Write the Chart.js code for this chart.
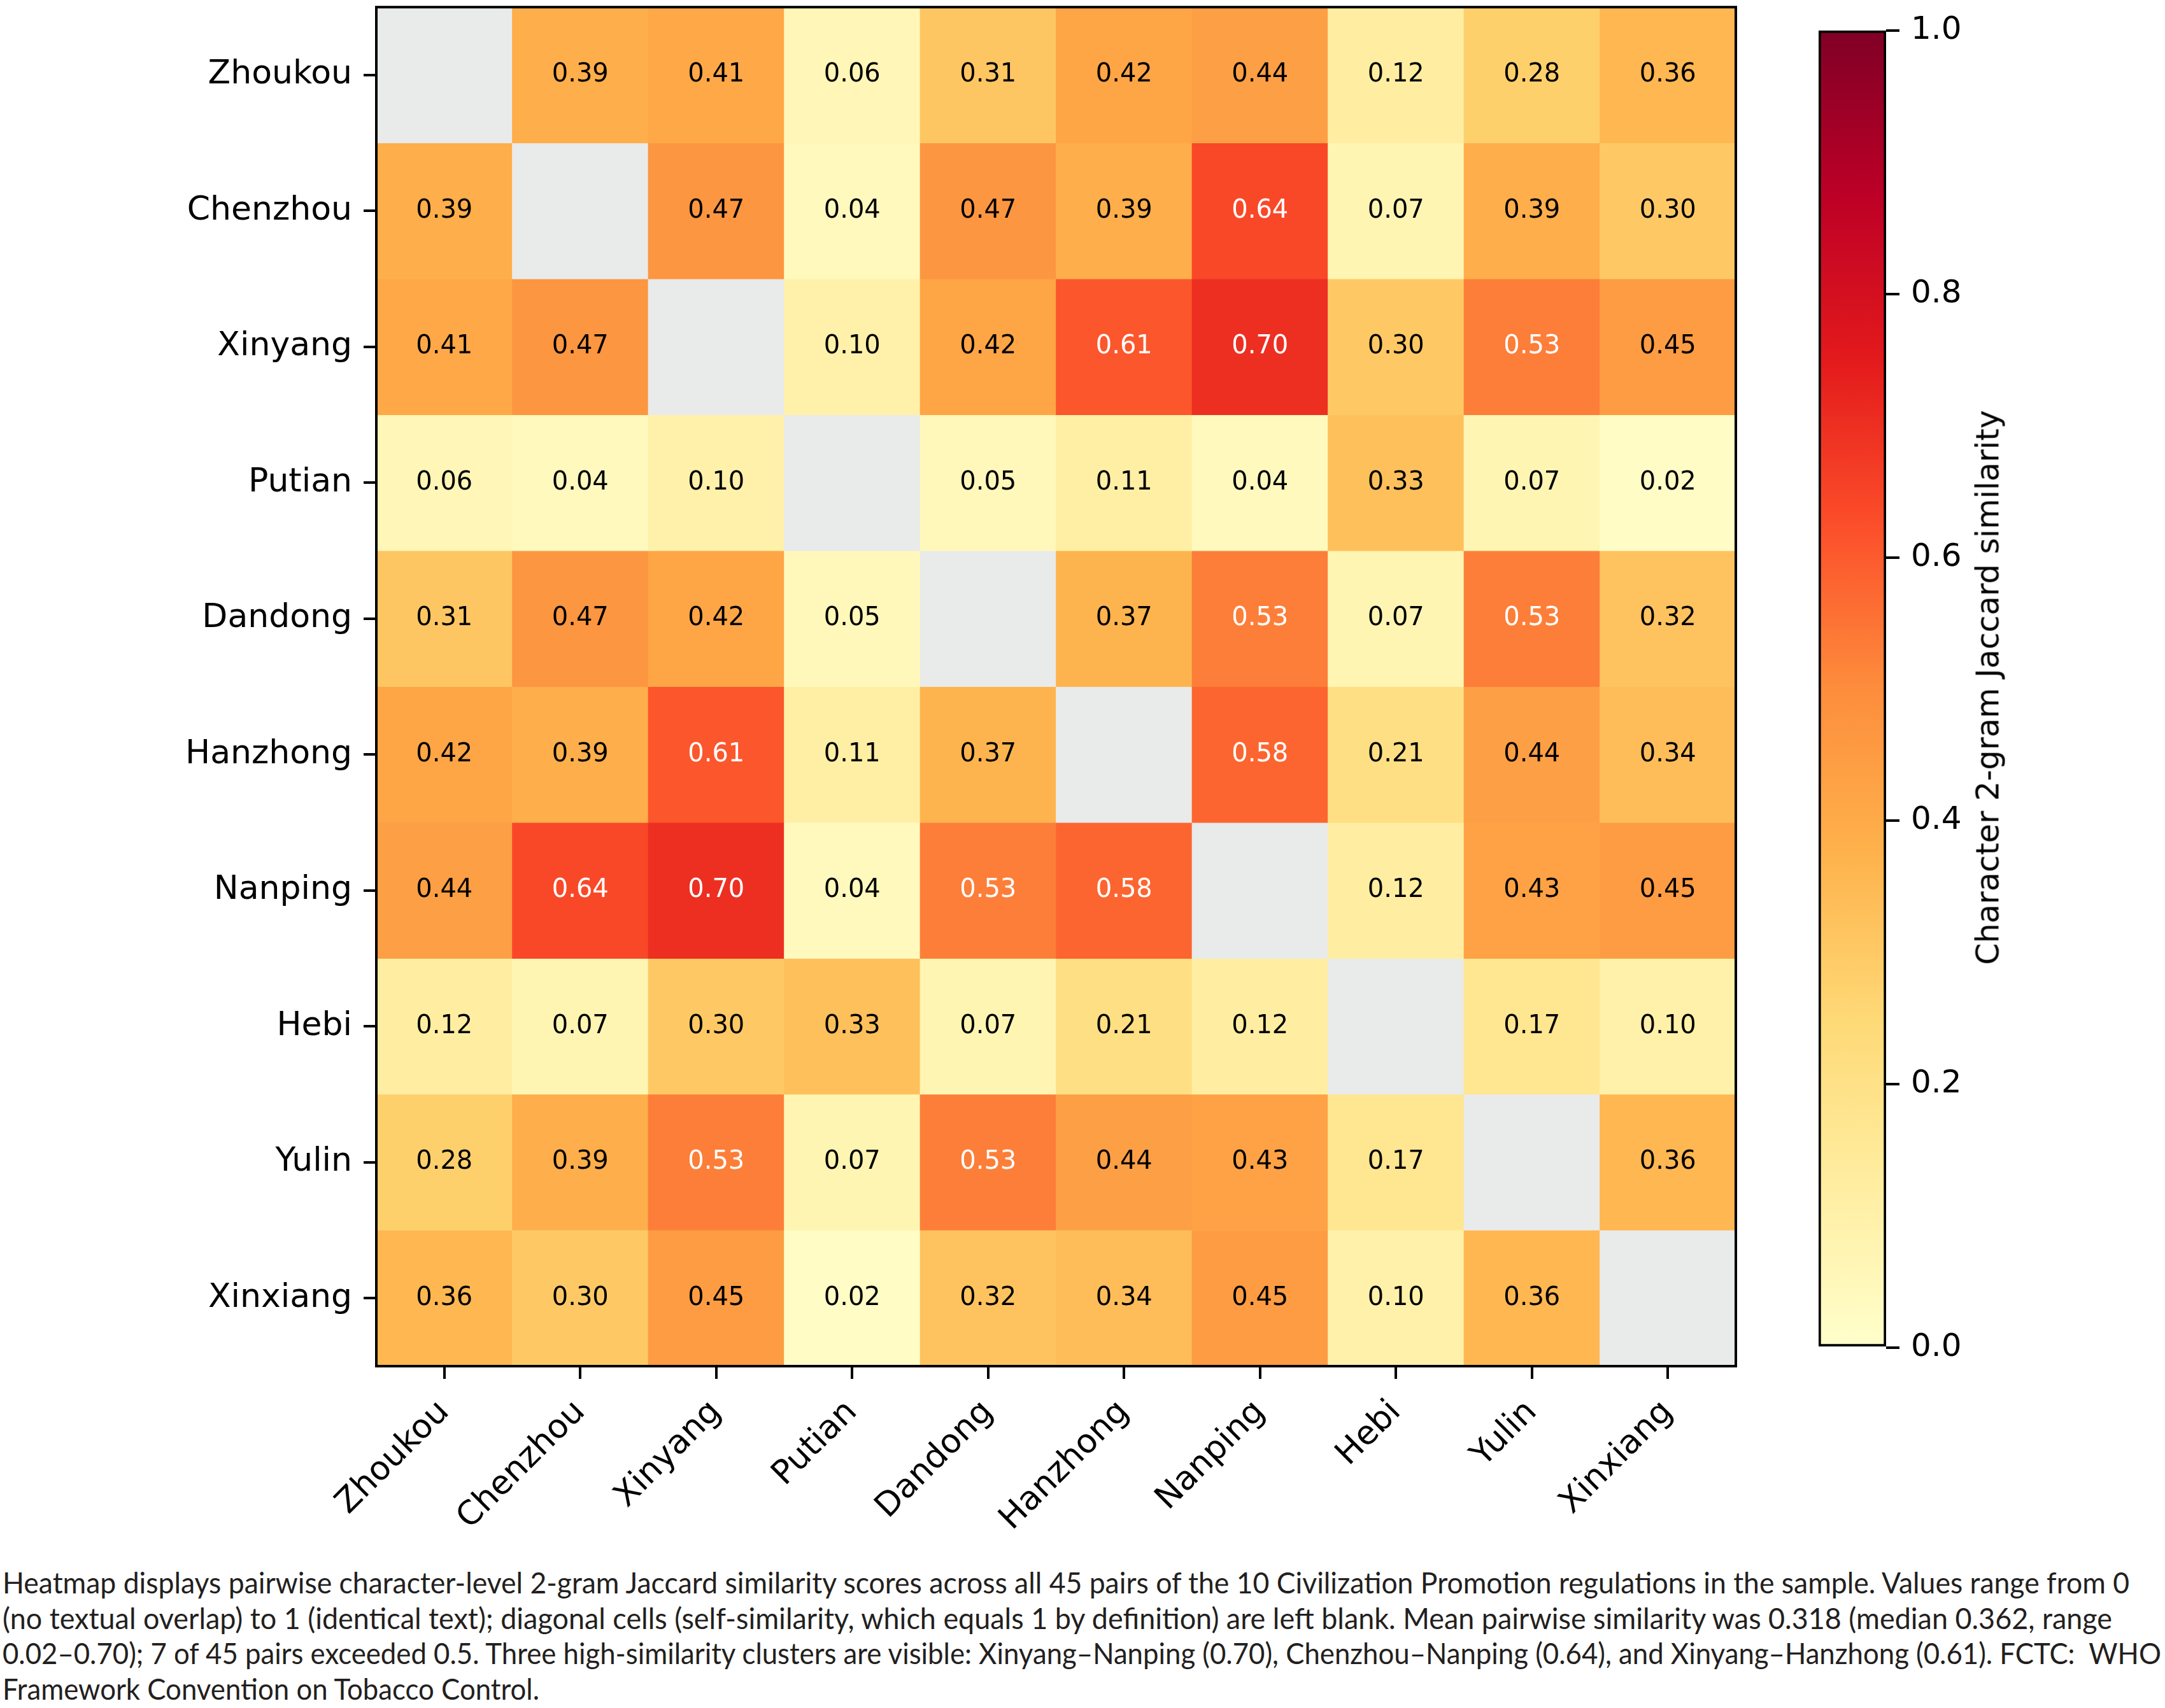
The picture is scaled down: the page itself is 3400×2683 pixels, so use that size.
<!DOCTYPE html>
<html>
<head>
<meta charset="utf-8">
<title>Pairwise 2-gram Jaccard similarity</title>
<script src="https://cdn.jsdelivr.net/npm/chart.js@4.4.1/dist/chart.umd.min.js"></script>
<style>
    html, body { margin: 0; padding: 0; background: #fff; width: 3400px; height: 2683px; overflow: hidden; }
    #heatBox { position: absolute; left: 0; top: -38px; width: 2740px; height: 2478px; }
    #cbarBox { position: absolute; left: 2700px; top: 0; width: 400px; height: 2200px; }
    #cbLabel {
        position: absolute; left: 3122px; top: 1080px;
        transform: translate(-50%, -50%) rotate(-90deg);
        font-family: "DejaVu Sans", sans-serif; font-size: 49px; color: #000; white-space: nowrap;
    }
    #caption {
        position: absolute; left: 4px; top: 2458px;
        font-family: Lato, "Noto Sans", sans-serif; font-size: 47px; line-height: 55.5px;
        color: #231f20;
    }
    #caption span { display: inline-block; white-space: nowrap; transform-origin: 0 50%; }
</style>
</head>
<body>
<div id="heatBox"><canvas id="heatmap"></canvas></div>
<div id="cbarBox"><canvas id="colorbar"></canvas></div>
<div id="cbLabel">Character 2-gram Jaccard similarity</div>
<div id="caption">
    <div><span data-w="3340">Heatmap displays pairwise character-level 2-gram Jaccard similarity scores across all 45 pairs of the 10 Civilization Promotion regulations in the sample. Values range from 0</span></div>
    <div><span data-w="3313">(no textual overlap) to 1 (identical text); diagonal cells (self-similarity, which equals 1 by definition) are left blank. Mean pairwise similarity was 0.318 (median 0.362, range</span></div>
    <div><span data-w="3390">0.02–0.70); 7 of 45 pairs exceeded 0.5. Three high-similarity clusters are visible: Xinyang–Nanping (0.70), Chenzhou–Nanping (0.64), and Xinyang–Hanzhong (0.61). FCTC:&nbsp; WHO</span></div>
    <div><span data-w="843">Framework Convention on Tobacco Control.</span></div>
</div>
<script>
// cidades (linhas e colunas da matriz)
const cities = ["Zhoukou", "Chenzhou", "Xinyang", "Putian", "Dandong", "Hanzhong", "Nanping", "Hebi", "Yulin", "Xinxiang"];

// uma linha por cidade, diagonal em branco (null)
const zhoukou  = [null, 0.39, 0.41, 0.06, 0.31, 0.42, 0.44, 0.12, 0.28, 0.36];
const chenzhou = [0.39, null, 0.47, 0.04, 0.47, 0.39, 0.64, 0.07, 0.39, 0.30];
const xinyang  = [0.41, 0.47, null, 0.10, 0.42, 0.61, 0.70, 0.30, 0.53, 0.45];
const putian   = [0.06, 0.04, 0.10, null, 0.05, 0.11, 0.04, 0.33, 0.07, 0.02];
const dandong  = [0.31, 0.47, 0.42, 0.05, null, 0.37, 0.53, 0.07, 0.53, 0.32];
const hanzhong = [0.42, 0.39, 0.61, 0.11, 0.37, null, 0.58, 0.21, 0.44, 0.34];
const nanping  = [0.44, 0.64, 0.70, 0.04, 0.53, 0.58, null, 0.12, 0.43, 0.45];
const hebi     = [0.12, 0.07, 0.30, 0.33, 0.07, 0.21, 0.12, null, 0.17, 0.10];
const yulin    = [0.28, 0.39, 0.53, 0.07, 0.53, 0.44, 0.43, 0.17, null, 0.36];
const xinxiang = [0.36, 0.30, 0.45, 0.02, 0.32, 0.34, 0.45, 0.10, 0.36, null];

const similarity = [zhoukou, chenzhou, xinyang, putian, dandong, hanzhong, nanping, hebi, yulin, xinxiang];

// escala de cor e ticks da barra
const colorRange = [0, 1];
const colorTicks = [0, 0.2, 0.4, 0.6, 0.8, 1.0];

// YlOrRd (matplotlib)
const ylOrRd = ["#ffffcc", "#ffeda0", "#fed976", "#feb24c", "#fd8d3c", "#fc4e2a", "#e31a1c", "#bd0026", "#800026"];
const blankColor = "#e9eaea";

function hexToRgb(h) {
    return [parseInt(h.slice(1, 3), 16), parseInt(h.slice(3, 5), 16), parseInt(h.slice(5, 7), 16)];
}

function cmap(v) {
    if (v === null || v === undefined) return blankColor;
    const t = Math.min(Math.max((v - colorRange[0]) / (colorRange[1] - colorRange[0]), 0), 1) * (ylOrRd.length - 1);
    const i = Math.min(Math.floor(t), ylOrRd.length - 2);
    const f = t - i;
    const a = hexToRgb(ylOrRd[i]), b = hexToRgb(ylOrRd[i + 1]);
    const c = a.map((x, k) => Math.round(x + (b[k] - x) * f));
    return `rgb(${c[0]},${c[1]},${c[2]})`;
}

Chart.defaults.font.family = "'DejaVu Sans', sans-serif";
Chart.defaults.color = "#000";

// texto dos valores dentro de cada célula
const cellLabels = {
    id: "cellLabels",
    afterDatasetsDraw(chart) {
        const ctx = chart.ctx;
        ctx.save();
        ctx.font = "40px 'DejaVu Sans'";
        ctx.textAlign = "center";
        ctx.textBaseline = "middle";
        similarity.forEach((row, r) => {
            chart.getDatasetMeta(r).data.forEach((bar, j) => {
                const v = row[j];
                if (v === null) return;
                const p = bar.getCenterPoint();
                ctx.fillStyle = v > 0.5 ? "#fff" : "#000";
                ctx.fillText(v.toFixed(2), p.x, p.y);
            });
        });
        ctx.restore();
    }
};

// moldura à volta da área do gráfico
const frame = {
    id: "frame",
    afterDraw(chart) {
        const a = chart.chartArea;
        const ctx = chart.ctx;
        ctx.save();
        ctx.strokeStyle = "#000";
        ctx.lineWidth = 4;
        ctx.strokeRect(a.left, a.top, a.right - a.left, a.bottom - a.top);
        ctx.restore();
    }
};

const datasets = similarity.map((row, r) => ({
    label: cities[r],
    data: cities.map(() => [r - 0.5, r + 0.5]),
    backgroundColor: row.map(cmap),
    borderWidth: 0,
    grouped: false,
    barPercentage: 1,
    categoryPercentage: 1
}));

try {
    new Chart(document.getElementById("heatmap").getContext("2d"), {
        type: "bar",
        data: { labels: cities, datasets },
        options: {
            responsive: true,
            maintainAspectRatio: false,
            devicePixelRatio: 1,
            animation: false,
            layout: { padding: { top: 10, right: 14, left: 0, bottom: 0 } },
            plugins: { legend: { display: false }, tooltip: { enabled: false } },
            scales: {
                x: {
                    type: "category",
                    grid: { drawOnChartArea: false, offset: false, tickLength: 20, color: "#000", lineWidth: 4 },
                    border: { display: false },
                    ticks: {
                        autoSkip: false, maxRotation: 45, minRotation: 45, padding: 22,
                        font: { size: 52 }, color: "#000"
                    },
                    afterFit: s => { s.height = 294; }
                },
                y: {
                    type: "linear",
                    min: -0.5,
                    max: 9.5,
                    reverse: true,
                    afterBuildTicks: s => { s.ticks = cities.map((_, i) => ({ value: i })); },
                    grid: { drawOnChartArea: false, tickLength: 20, color: "#000", lineWidth: 4 },
                    border: { display: false },
                    ticks: {
                        padding: 18, font: { size: 52 }, color: "#000",
                        callback: v => cities[v]
                    },
                    afterFit: s => { s.width = 591; }
                }
            }
        },
        plugins: [cellLabels, frame]
    });
} catch (e) { console.log(e); }

// barra de cores
try {
    new Chart(document.getElementById("colorbar").getContext("2d"), {
        type: "bar",
        data: {
            labels: ["scale"],
            datasets: [{
                data: [colorRange],
                backgroundColor: c => {
                    const ch = c.chart;
                    const ys = ch.scales && ch.scales.y;
                    if (!ch.chartArea || !ys) return ylOrRd[0];
                    const y0 = ys.getPixelForValue(colorRange[0]);
                    const y1 = ys.getPixelForValue(colorRange[1]);
                    if (!isFinite(y0) || !isFinite(y1)) return ylOrRd[0];
                    const g = ch.ctx.createLinearGradient(0, y0, 0, y1);
                    ylOrRd.forEach((col, i) => g.addColorStop(i / (ylOrRd.length - 1), col));
                    return g;
                },
                borderColor: "#000",
                borderWidth: 4,
                borderSkipped: false,
                barPercentage: 1,
                categoryPercentage: 1
            }]
        },
        options: {
            responsive: true,
            maintainAspectRatio: false,
            devicePixelRatio: 1,
            animation: false,
            layout: { padding: { top: 39, left: 156, bottom: 83, right: 0 } },
            plugins: { legend: { display: false }, tooltip: { enabled: false } },
            scales: {
                x: { display: false },
                y: {
                    position: "right",
                    min: colorRange[0],
                    max: colorRange[1],
                    afterBuildTicks: s => { s.ticks = colorTicks.map(v => ({ value: v })); },
                    grid: { drawOnChartArea: false, tickLength: 21, color: "#000", lineWidth: 4 },
                    border: { display: false },
                    ticks: { padding: 18, font: { size: 50 }, color: "#000", callback: v => v.toFixed(1) },
                    afterFit: s => { s.width = 138; }
                }
            }
        }
    });
} catch (e) { console.log(e); }

// ajustar cada linha da legenda de rodapé à largura do original
function fitCaption() {
    document.querySelectorAll("#caption span").forEach(sp => {
        sp.style.transform = "none";
        const w = sp.getBoundingClientRect().width;
        if (w > 0) sp.style.transform = `scaleX(${Number(sp.dataset.w) / w})`;
    });
}
fitCaption();
if (document.fonts && document.fonts.ready) document.fonts.ready.then(fitCaption);
</script>
</body>
</html>
